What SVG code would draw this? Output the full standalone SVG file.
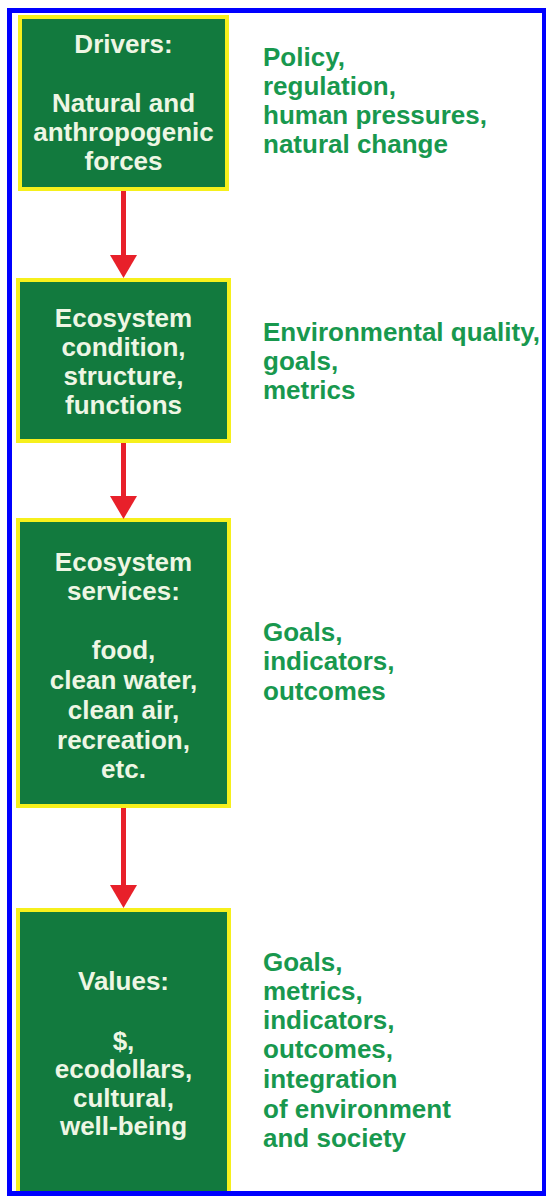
<svg xmlns="http://www.w3.org/2000/svg" width="546" height="1196" viewBox="0 0 546 1196">
<style>
.box{fill:#127a3e;stroke:#f6f01c;stroke-width:4}
.bt{font-family:"Liberation Sans",Arial,sans-serif;font-weight:bold;font-size:26px;fill:#eef6e4;text-anchor:middle}
.rt{font-family:"Liberation Sans",Arial,sans-serif;font-weight:bold;font-size:26px;fill:#18984e}
.conn{stroke:#e8202a;stroke-width:5;fill:none}
</style>
<defs>
<marker id="ah" markerUnits="userSpaceOnUse" markerWidth="24" markerHeight="28" refX="0" refY="14" orient="auto" viewBox="0 0 24 28">
<path d="M0,0.5 L23,14 L0,27.5 z" fill="#e8202a"/>
</marker>
</defs>
<rect x="0" y="0" width="546" height="1196" fill="#ffffff"/>

<g id="node-drivers">
<rect class="box" x="20" y="17" width="207" height="172"/>
<text class="bt" x="123.5" y="53">Drivers:</text>
<text class="bt" x="123.5" y="112">Natural and</text>
<text class="bt" x="123.5" y="141">anthropogenic</text>
<text class="bt" x="123.5" y="170">forces</text>
</g>
<g id="label-drivers">
<text class="rt" x="263" y="66">Policy,</text>
<text class="rt" x="263" y="95">regulation,</text>
<text class="rt" x="263" y="124">human pressures,</text>
<text class="rt" x="263" y="153">natural change</text>
</g>

<g id="node-condition">
<rect class="box" x="18" y="280" width="211" height="161"/>
<text class="bt" x="123.5" y="327">Ecosystem</text>
<text class="bt" x="123.5" y="356">condition,</text>
<text class="bt" x="123.5" y="385">structure,</text>
<text class="bt" x="123.5" y="414">functions</text>
</g>
<g id="label-condition">
<text class="rt" x="263" y="341">Environmental quality,</text>
<text class="rt" x="263" y="370">goals,</text>
<text class="rt" x="263" y="399">metrics</text>
</g>

<g id="node-services">
<rect class="box" x="18" y="520" width="211" height="286"/>
<text class="bt" x="123.5" y="571">Ecosystem</text>
<text class="bt" x="123.5" y="600">services:</text>
<text class="bt" x="123.5" y="659">food,</text>
<text class="bt" x="123.5" y="689">clean water,</text>
<text class="bt" x="123.5" y="719">clean air,</text>
<text class="bt" x="123.5" y="749">recreation,</text>
<text class="bt" x="123.5" y="778">etc.</text>
</g>
<g id="label-services">
<text class="rt" x="263" y="641">Goals,</text>
<text class="rt" x="263" y="670">indicators,</text>
<text class="rt" x="263" y="700">outcomes</text>
</g>

<g id="node-values">
<rect class="box" x="18" y="910" width="211" height="300"/>
<text class="bt" x="123.5" y="990">Values:</text>
<text class="bt" x="123.5" y="1050">$,</text>
<text class="bt" x="123.5" y="1078">ecodollars,</text>
<text class="bt" x="123.5" y="1107">cultural,</text>
<text class="bt" x="123.5" y="1135">well-being</text>
</g>
<g id="label-values">
<text class="rt" x="263" y="971">Goals,</text>
<text class="rt" x="263" y="1000">metrics,</text>
<text class="rt" x="263" y="1029">indicators,</text>
<text class="rt" x="263" y="1058">outcomes,</text>
<text class="rt" x="263" y="1088">integration</text>
<text class="rt" x="263" y="1118">of environment</text>
<text class="rt" x="263" y="1147">and society</text>
</g>

<g id="connectors">
<line class="conn" x1="123.5" y1="191" x2="123.5" y2="255" marker-end="url(#ah)"/>
<line class="conn" x1="123.5" y1="443" x2="123.5" y2="496" marker-end="url(#ah)"/>
<line class="conn" x1="123.5" y1="808" x2="123.5" y2="885" marker-end="url(#ah)"/>
</g>

<rect id="frame" x="9.5" y="10.5" width="535" height="1183" fill="none" stroke="#0000ff" stroke-width="5"/>
</svg>
